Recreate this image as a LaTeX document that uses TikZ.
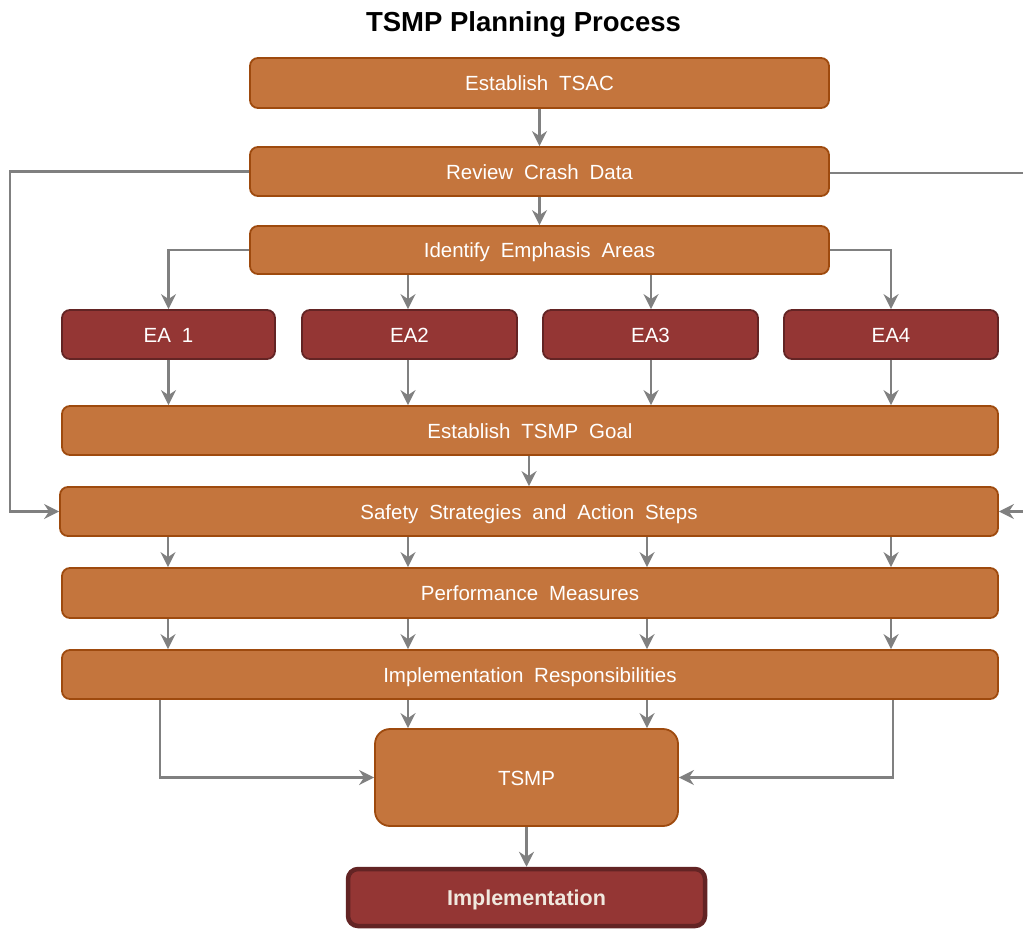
\documentclass[tikz,border=0pt]{standalone}
\usepackage{fontspec}
\setmainfont{Liberation Sans}
\newfontfamily\boxfont[WordSpace=1.9]{Liberation Sans}
\usetikzlibrary{arrows.meta}
\definecolor{orfill}{RGB}{196,117,61}
\definecolor{ordraw}{RGB}{158,74,14}
\definecolor{rdfill}{RGB}{148,54,52}
\definecolor{rddraw}{RGB}{99,36,36}
\definecolor{arrgray}{RGB}{128,128,128}
\definecolor{cream}{RGB}{240,232,222}
\tikzset{
  obox/.style={draw=ordraw, fill=orfill, line width=1.8pt, rounded corners=8pt,
    text=white, font=\boxfont\fontsize{20.5}{24}\selectfont, inner sep=0pt,
    text height=15pt, text depth=0pt},
  rbox/.style={draw=rddraw, fill=rdfill, line width=1.8pt, rounded corners=8pt,
    text=white, font=\boxfont\fontsize{20.5}{24}\selectfont, inner sep=0pt,
    text height=15pt, text depth=0pt},
  arr/.style={draw=arrgray, line width=2.5pt, -{Stealth[length=15pt,width=15pt,inset=5pt]}},
  ln/.style={draw=arrgray, line width=2.5pt}
}
\begin{document}
\begin{tikzpicture}[x=1pt,y=-1pt]
\clip (0,0) rectangle (1023,930);
\fill[white] (0,0) rectangle (1023,930);
\node[font=\bfseries\fontsize{27.5}{32}\selectfont, anchor=base] (title) at (523.5,31) {TSMP Planning Process};
\node[obox, minimum width=579, minimum height=50] (tsac) at (539.5,83) {Establish TSAC};
\node[obox, minimum width=579, minimum height=49] (crash) at (539.5,171.5) {Review Crash Data};
\node[obox, minimum width=579, minimum height=48] (ident) at (539.5,250) {Identify Emphasis Areas};
\node[rbox, minimum width=213, minimum height=49] (ea1) at (168.5,334.5) {EA 1};
\node[rbox, minimum width=215, minimum height=49] (ea2) at (409.5,334.5) {EA2};
\node[rbox, minimum width=215, minimum height=49] (ea3) at (650.5,334.5) {EA3};
\node[rbox, minimum width=214, minimum height=49] (ea4) at (891,334.5) {EA4};
\node[obox, minimum width=936, minimum height=49] (goal) at (530,430.5) {Establish TSMP Goal};
\node[obox, minimum width=938, minimum height=49] (safety) at (529,511.5) {Safety Strategies and Action Steps};
\node[obox, minimum width=936, minimum height=50] (perf) at (530,593) {Performance Measures};
\node[obox, minimum width=936, minimum height=49] (resp) at (530,674.5) {Implementation Responsibilities};
\node[obox, rounded corners=15pt, minimum width=303, minimum height=97] (tsmp) at (526.5,777.5) {TSMP};
\node[draw=rddraw, fill=rdfill, line width=4.5pt, rounded corners=10pt, text=cream,
  font=\bfseries\fontsize{21.5}{25}\selectfont, inner sep=0pt, text height=15.5pt, text depth=0pt,
  minimum width=357, minimum height=57] (impl) at (526.5,897.5) {Implementation};

\coordinate (c1) at (168,0);
\coordinate (c2) at (408,0);
\coordinate (c3) at (647,0);
\coordinate (c4) at (891,0);
\coordinate (e2) at (408,0);
\coordinate (e3) at (651,0);
\coordinate (cl) at (160,0);
\coordinate (cr) at (893,0);
\coordinate (lout) at (10,171.5);
\coordinate (rout) at (1040,173);

\draw[arr] (tsac.south) -- (crash.north);
\draw[arr] (crash.south) -- (ident.north);
\draw[arr] (crash.west) -- (lout) |- (safety.west);
\draw[arr] (crash.east |- rout) -- (rout) |- (safety.east);
\draw[arr] (ident.west) -| (ea1.north);
\draw[arr] (ident.south -| e2) -- (ea2.north -| e2);
\draw[arr] (ident.south -| e3) -- (ea3.north -| e3);
\draw[arr] (ident.east) -| (ea4.north);
\draw[arr] (ea1.south) -- (goal.north -| ea1.south);
\draw[arr] (ea2.south -| e2) -- (goal.north -| e2);
\draw[arr] (ea3.south -| e3) -- (goal.north -| e3);
\draw[arr] (ea4.south) -- (goal.north -| ea4.south);
\draw[arr] (goal.south -| safety.north) -- (safety.north);
\foreach \c in {c1,c2,c3,c4}{
  \draw[arr] (safety.south -| \c) -- (perf.north -| \c);
  \draw[arr] (perf.south -| \c) -- (resp.north -| \c);
}
\draw[arr] (resp.south -| c2) -- (tsmp.north -| c2);
\draw[arr] (resp.south -| c3) -- (tsmp.north -| c3);
\draw[arr] (resp.south -| cl) |- (tsmp.west);
\draw[arr] (resp.south -| cr) |- (tsmp.east);
\draw[arr] (tsmp.south) -- (impl.north);
\end{tikzpicture}
\end{document}
